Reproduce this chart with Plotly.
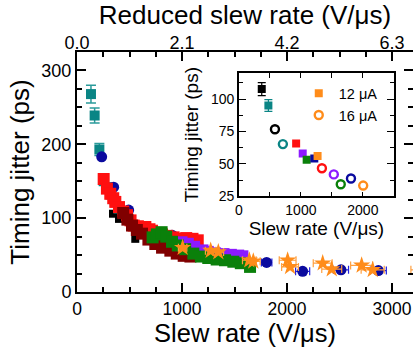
import plotly.graph_objects as go

FONT = "Liberation Sans, Arial, sans-serif"

# ---------------- main panel data (slew rate V/us, jitter ps) ----------------
black_x = [343, 400, 555]
black_y = [106, 99, 72]

teal_x = [133, 168, 213, 254, 283, 320, 360, 395]
teal_y = [268, 239, 193, 150, 142, 132, 122, 113]
teal_err = [12, 10, 8, 4, 4, 4, 4, 4]

navy_x = [235, 349, 492, 905, 1806, 2149, 2514, 2870]
navy_y = [183, 142, 111, 77, 40, 28, 30, 29]
navy_xerr = [10, 15, 20, 35, 50, 67, 72, 76]

red_x = [254, 285, 317, 345, 365, 400, 440, 476, 510, 540, 580, 620, 651, 690,
         714, 760, 810, 860, 920, 984, 1040, 1100, 1150]
red_y = [153, 140, 133, 127, 122, 115, 109, 104, 97, 90, 89, 88, 88, 85,
         83, 80, 78, 76, 74, 72, 73, 72, 70]

maroon_x = [440, 480, 524, 570, 619, 680, 746, 810, 889, 950, 1016, 1080]
maroon_y = [107, 98, 90, 84, 79, 71, 65, 60, 56, 52, 49, 48]

purple_x = [1000, 1060, 1120, 1200, 1250, 1320, 1400, 1470, 1540, 1580]
purple_y = [68, 66, 62, 57, 55, 53, 52, 51, 50, 49]

green_x = [720, 760, 806, 850, 905, 960, 1030, 1108, 1180, 1250, 1330, 1410,
           1489, 1560, 1648]
green_y = [74, 78, 81, 75, 68, 63, 58, 52, 48, 46, 44, 43, 41, 39, 34]

star_x = [1006, 1273, 1346, 1641, 1679, 2006, 2029, 2340, 2426, 2711, 2816, 3290]
star_y = [60, 56, 54, 43, 41.5, 43, 34, 39, 31, 36, 30, 30]
star_xerr = [40, 50, 50, 65, 65, 80, 80, 90, 95, 105, 110, 110]

# ---------------- inset data ----------------
# filled squares (12 uA)
sq_names = ["black", "teal", "red", "purple", "green", "navy", "orange"]
sq_x = [368, 475, 923, 1029, 1093, 1216, 1269]
sq_y = [107.6, 95, 65.7, 58.1, 53.3, 54.3, 56.1]
sq_err = [5, 4.5, 0, 0, 0, 0, 0]
# open circles (16 uA)
ci_names = ["black", "teal", "red", "purple", "green", "navy", "orange"]
ci_x = [581, 709, 1339, 1531, 1643, 1808, 2005]
ci_y = [76.7, 65.3, 46.7, 42, 34.4, 38.8, 33.4]

legend_labels = ["12 μA", "16 μA"]

COL = {
    "black": "#000000",
    "teal": "#0a8585",
    "navy": "#0a0a9e",
    "red": "#ff1010",
    "maroon": "#800000",
    "purple": "#8c1aff",
    "green": "#0a800a",
    "orange": "#ff8c1a",
}

REDUCED_PER_SLEW = 2.1 / 1000.0
X_MAX = 3200
Y_MAX = 325

fig = go.Figure()

def sq(x, y, color, size=12, **kw):
    return go.Scatter(x=x, y=y, mode="markers", showlegend=False,
                      marker=dict(symbol="square", size=size, color=color,
                                  line=dict(width=0)), **kw)

fig.add_trace(sq(black_x, black_y, COL["black"], size=8))
fig.add_trace(sq(teal_x, teal_y, COL["teal"], size=10,
                 error_y=dict(type="data", array=teal_err, color="#2a9a9a",
                              thickness=1.5, width=5)))
fig.add_trace(go.Scatter(x=navy_x, y=navy_y, mode="markers", showlegend=False,
                         marker=dict(symbol="circle", size=11, color=COL["navy"],
                                     line=dict(width=0)),
                         error_x=dict(type="data", array=navy_xerr, color="#2222dd",
                                      thickness=1.2, width=4)))
fig.add_trace(sq(red_x, red_y, COL["red"], size=12))
fig.add_trace(sq(maroon_x, maroon_y, COL["maroon"], size=12))
fig.add_trace(sq(purple_x, purple_y, COL["purple"], size=11))
fig.add_trace(sq(green_x, green_y, COL["green"], size=12))
fig.add_trace(go.Scatter(x=star_x, y=star_y, mode="markers", showlegend=False,
                         marker=dict(symbol="star", size=13, color=COL["orange"],
                                     line=dict(width=0)),
                         error_x=dict(type="data", array=star_xerr, color="#ffa040",
                                      thickness=1.2, width=4)))

# invisible companions so the top (reduced slew rate) axis and the right tick
# axis get drawn
fig.add_trace(go.Scatter(x=[v * REDUCED_PER_SLEW for v in star_x], y=star_y,
                         xaxis="x2", yaxis="y", mode="markers",
                         marker=dict(opacity=0), showlegend=False,
                         hoverinfo="skip"))
fig.add_trace(go.Scatter(x=star_x, y=star_y, xaxis="x", yaxis="y2",
                         mode="markers", marker=dict(opacity=0),
                         showlegend=False, hoverinfo="skip"))

# inset traces
for n, x, y, e in zip(sq_names, sq_x, sq_y, sq_err):
    is_leg = n == "orange"
    fig.add_trace(go.Scatter(
        x=[x], y=[y], mode="markers", xaxis="x3", yaxis="y3",
        showlegend=is_leg, name=legend_labels[0],
        marker=dict(symbol="square", size=8, color=COL[n], line=dict(width=0)),
        error_y=dict(type="data", array=[e], color=COL[n], thickness=1.2, width=4,
                     visible=e > 0)))
for n, x, y in zip(ci_names, ci_x, ci_y):
    is_leg = n == "orange"
    fig.add_trace(go.Scatter(
        x=[x], y=[y], mode="markers", xaxis="x3", yaxis="y3",
        showlegend=is_leg, name=legend_labels[1],
        marker=dict(symbol="circle-open", size=8, color=COL[n],
                    line=dict(width=2.4, color=COL[n]))))

def axis_common(lw=2):
    return dict(showline=True, linecolor="black", linewidth=lw, ticks="inside",
                tickcolor="black", showgrid=False, zeroline=False)

fig.update_layout(
    width=414, height=347,
    margin=dict(l=77, r=1, t=52, b=55),
    paper_bgcolor="white", plot_bgcolor="white",
    font=dict(family=FONT, color="black"),
    xaxis=dict(**axis_common(), range=[0, X_MAX], dtick=1000, tick0=0, ticklen=9,
               tickwidth=1.5,
               minor=dict(dtick=250, ticklen=5, ticks="inside", tickcolor="black",
                          tickwidth=1.5),
               tickfont=dict(size=17.5),
               title=dict(text="Slew rate (V/μs)", font=dict(size=25.5), standoff=5)),
    yaxis=dict(**axis_common(), range=[0, Y_MAX], dtick=100, tick0=0, ticklen=9,
               tickwidth=1.5,
               minor=dict(dtick=25, ticklen=5, ticks="inside", tickcolor="black",
                          tickwidth=1.5),
               tickfont=dict(size=18),
               title=dict(text="Timing jitter (ps)", font=dict(size=26), standoff=4)),
    xaxis2=dict(**axis_common(), overlaying="x", side="top", anchor="y",
                range=[0, X_MAX * REDUCED_PER_SLEW], dtick=2.1, tick0=0,
                tickformat=".1f", ticklen=9, tickwidth=1.5,
                ticklabelstandoff=-6,
                minor=dict(dtick=0.525, ticklen=5, ticks="inside",
                           tickcolor="black", tickwidth=1.5),
                tickfont=dict(size=18),
                title=dict(text="Reduced slew rate (V/μs)", font=dict(size=26),
                           standoff=4)),
    yaxis2=dict(showline=False, overlaying="y", side="right", anchor="x",
                range=[0, Y_MAX], dtick=100, tick0=0, ticks="inside", ticklen=9,
                tickwidth=1.5, tickcolor="black", showticklabels=False,
                showgrid=False, zeroline=False,
                minor=dict(dtick=25, ticklen=5, ticks="inside", tickcolor="black",
                           tickwidth=1.5)),
    xaxis3=dict(**axis_common(1.5), domain=[0.482, 0.943], anchor="y3",
                mirror="ticks",
                range=[0, 2500], dtick=1000, tick0=0, ticklen=5, tickwidth=1.3,
                minor=dict(dtick=500, ticklen=5, ticks="inside", tickcolor="black",
                           tickwidth=1.3),
                tickfont=dict(size=14),
                title=dict(text="Slew rate (V/μs)", font=dict(size=19), standoff=2)),
    yaxis3=dict(**axis_common(1.5), domain=[0.398, 0.9125], anchor="x3",
                mirror="ticks",
                range=[25, 120], dtick=25, tick0=0, ticklen=7, tickwidth=1.3,
                minor=dict(dtick=12.5, ticklen=4, ticks="inside", tickcolor="black",
                           tickwidth=1.3),
                tickfont=dict(size=14),
                title=dict(text="Timing jitter (ps)", font=dict(size=19), standoff=7)),
    legend=dict(x=0.66, y=0.895, xanchor="left", yanchor="top",
                bgcolor="rgba(0,0,0,0)", font=dict(size=14.5), itemwidth=30,
                tracegroupgap=0),
)

fig.write_html("out.html")
